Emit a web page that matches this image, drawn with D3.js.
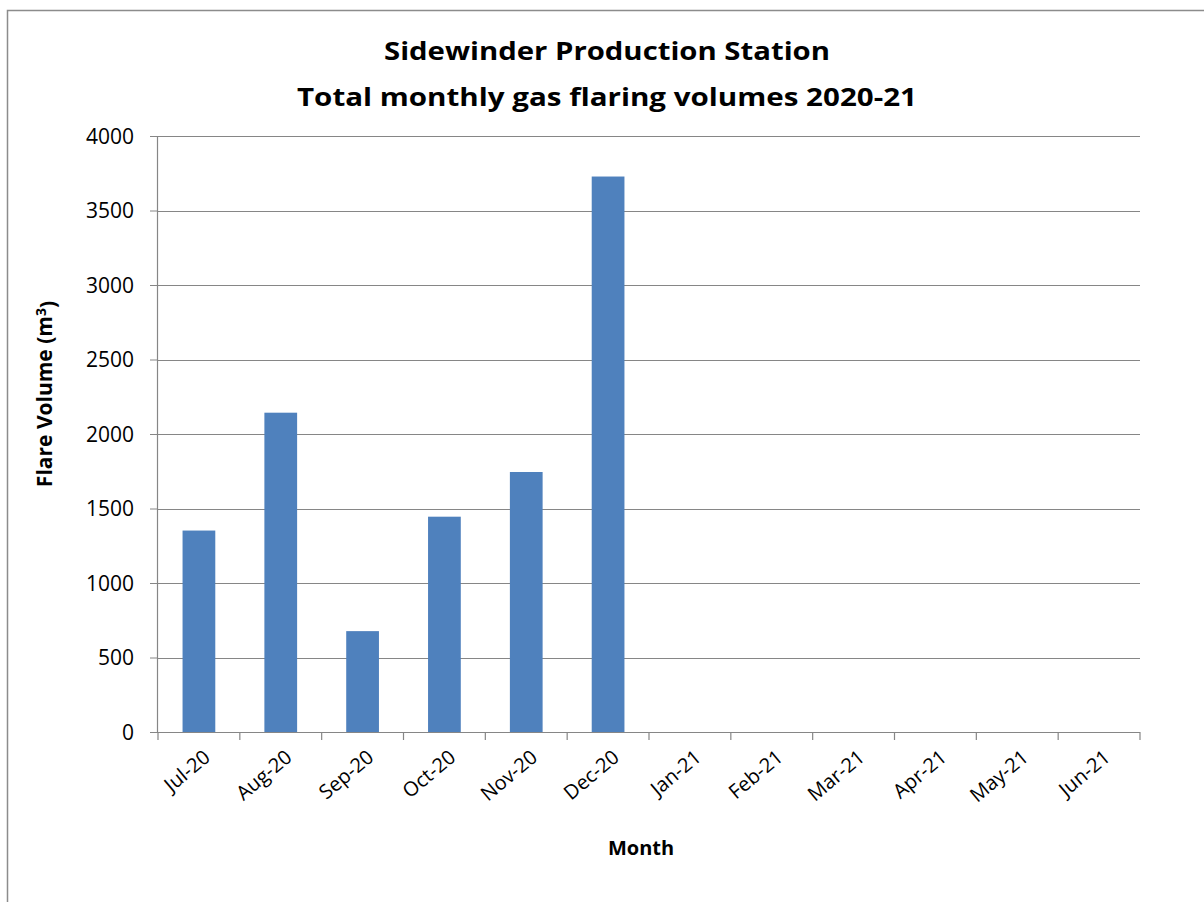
<!DOCTYPE html>
<html>
<head>
<meta charset="utf-8">
<script src="https://cdn.jsdelivr.net/npm/d3@7"></script>
<style>
  html, body { margin: 0; padding: 0; background: #fff; }
  svg { display: block; }
  text { font-family: "Open Sans", "DejaVu Sans", sans-serif; fill: #000; }
</style>
</head>
<body>
<svg id="chart" width="1204" height="902"></svg>
<script>
const months = ["Jul-20","Aug-20","Sep-20","Oct-20","Nov-20","Dec-20","Jan-21","Feb-21","Mar-21","Apr-21","May-21","Jun-21"];
const volumes = [1352, 2143, 677, 1445, 1745, 3728, null, null, null, null, null, null];
const yTicks = [0, 500, 1000, 1500, 2000, 2500, 3000, 3500, 4000];
const titleLines = ["Sidewinder Production Station", "Total monthly gas flaring volumes 2020-21"];

const svg = d3.select("#chart");
const W = 1204, H = 902;
const margin = {left: 158, right: 64, top: 136, bottom: 170};
const plotW = W - margin.left - margin.right;
const plotH = H - margin.top - margin.bottom;
const axisColor = "#868686";

// outer chart border
svg.append("rect").attr("x", 7.5).attr("y", 10.5).attr("width", 1210).attr("height", 910)
  .attr("fill", "#fff").attr("stroke", "#8c8c8c").attr("stroke-width", 1.5);

const x = d3.scaleBand().domain(months).range([0, plotW]).paddingInner(0.6).paddingOuter(0.3);
const y = d3.scaleLinear().domain([0, 4000]).range([plotH, 0]);

const g = svg.append("g").attr("transform", `translate(${margin.left},${margin.top})`);

// gridlines
g.append("g").selectAll("line").data(yTicks.filter(d => d > 0)).join("line")
  .attr("x1", 0).attr("x2", plotW)
  .attr("y1", d => Math.round(y(d)) + 0.5).attr("y2", d => Math.round(y(d)) + 0.5)
  .attr("stroke", axisColor).attr("stroke-width", 1);

// bars
g.append("g").selectAll("rect").data(months.map((m, i) => ({m, v: volumes[i]})).filter(d => d.v != null)).join("rect")
  .attr("x", d => x(d.m)).attr("width", x.bandwidth())
  .attr("y", d => y(d.v)).attr("height", d => plotH - y(d.v))
  .attr("fill", "#4F81BD");

// y axis
const yAxis = g.append("g").call(d3.axisLeft(y).tickValues(yTicks).tickSize(8).tickPadding(16).tickFormat(d3.format("d")));
yAxis.select(".domain").attr("stroke", axisColor).attr("stroke-width", 1.2).attr("d", `M-0.5,${plotH}V0`);
yAxis.selectAll(".tick line").attr("stroke", axisColor);
yAxis.selectAll(".tick text").style("font-size", "21px").attr("fill", "#000").attr("dy", "0.35em");

// x axis (boundary ticks)
const xg = g.append("g").attr("transform", `translate(0,${plotH})`);
xg.append("line").attr("x1", 0).attr("x2", plotW).attr("y1", 0.5).attr("y2", 0.5).attr("stroke", axisColor).attr("stroke-width", 1.2);
const bounds = d3.range(months.length + 1).map(i => i * plotW / months.length);
xg.selectAll("line.tk").data(bounds).join("line").attr("class", "tk")
  .attr("x1", d => d).attr("x2", d => d).attr("y1", 0).attr("y2", 8)
  .attr("stroke", axisColor).attr("stroke-width", 1.2);
xg.selectAll("text").data(months).join("text")
  .attr("transform", d => `translate(${x(d) + x.bandwidth() / 2 + 8},${22}) rotate(-40)`)
  .attr("text-anchor", "end").attr("dy", "0.35em")
  .style("font-size", "20px").text(d => d);

// titles
svg.append("g").selectAll("text").data(titleLines).join("text")
  .attr("x", 607).attr("y", (d, i) => 60 + i * 46)
  .attr("text-anchor", "middle").style("font-size", "25px").style("font-weight", "bold")
  .attr("textLength", (d, i) => i === 0 ? 446 : 620).attr("lengthAdjust", "spacingAndGlyphs")
  .text(d => d);

// y label
const yl = svg.append("text").attr("transform", `translate(52,394) rotate(-90)`)
  .attr("text-anchor", "middle").style("font-size", "21px").style("font-weight", "bold");
yl.append("tspan").text("Flare Volume (m");
yl.append("tspan").attr("dy", "-0.45em").style("font-size", "14px").text("3");
yl.append("tspan").attr("dy", "0.45em").text(")");

// x label
svg.append("text").attr("x", 641).attr("y", 855).attr("text-anchor", "middle")
  .style("font-size", "20px").style("font-weight", "bold").text("Month");
</script>
</body>
</html>
